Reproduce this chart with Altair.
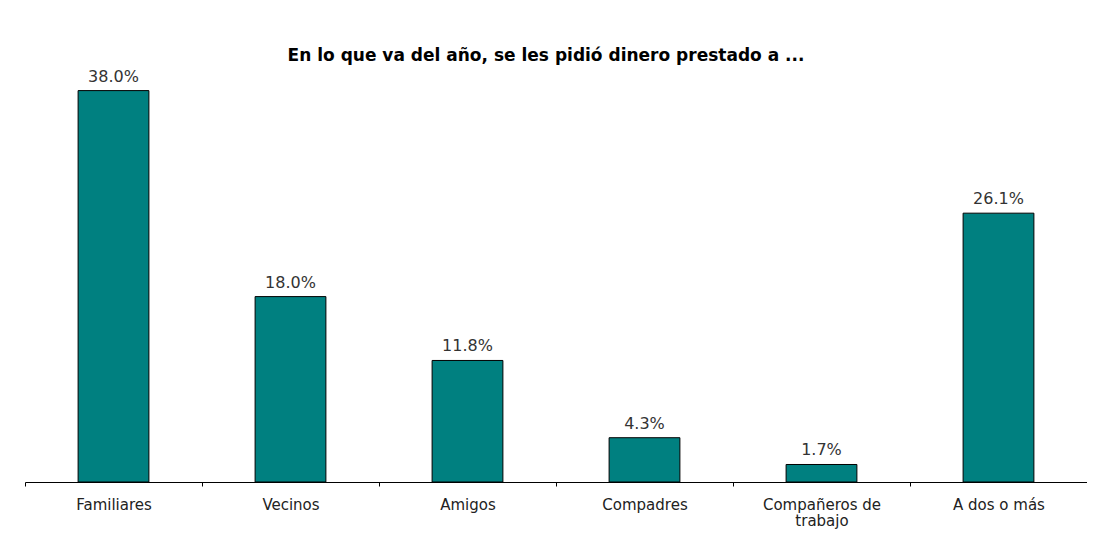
import altair as alt
import pandas as pd

categories = ["Familiares", "Vecinos", "Amigos", "Compadres", "Compañeros de trabajo", "A dos o más"]
values = [38.0, 18.0, 11.8, 4.3, 1.7, 26.1]

df = pd.DataFrame({"categoria": categories, "valor": values})

FONT = "DejaVu Sans"

x_enc = alt.X(
    "categoria:N",
    sort=categories,
    scale=alt.Scale(paddingInner=0, paddingOuter=0),
    axis=alt.Axis(
        title=None,
        labelAngle=0,
        labelFont=FONT,
        labelFontSize=15,
        labelColor="#222222",
        labelPadding=11,
        labelLineHeight=16,
        labelExpr="datum.label == 'Compañeros de trabajo' ? ['Compañeros de', 'trabajo'] : datum.label",
        tickBand="extent",
        tickSize=4,
        tickColor="#000000",
        domainColor="#000000",
        domainWidth=1,
        grid=False,
    ),
)
y_enc = alt.Y("valor:Q", scale=alt.Scale(domain=[0, 40], nice=False, zero=True), axis=None)

bars = alt.Chart(df).mark_bar(
    color="#008080", stroke="#000000", strokeWidth=1, width=alt.RelativeBandSize(0.4)
).encode(x=x_enc, y=y_enc)

labels = alt.Chart(df).transform_calculate(
    etiqueta="format(datum.valor, '.1f') + '%'"
).mark_text(
    font=FONT, fontSize=16, color="#333333", baseline="alphabetic", dy=-9
).encode(x=x_enc, y=y_enc, text="etiqueta:N")

chart = alt.layer(bars, labels).properties(
    width=1062,
    height=412,
    title=alt.TitleParams(
        "En lo que va del año, se les pidió dinero prestado  a ...",
        font=FONT,
        fontSize=17,
        fontWeight="bold",
        color="#000000",
        anchor="middle",
        dx=-10,
        offset=4,
    ),
    padding={"left": 17, "top": 62, "right": 0, "bottom": 58},
    autosize=alt.AutoSizeParams(type="none"),
    background="#ffffff",
).configure_view(stroke=None)

chart.save("out.html", embed_options={"renderer": "svg", "actions": False})
